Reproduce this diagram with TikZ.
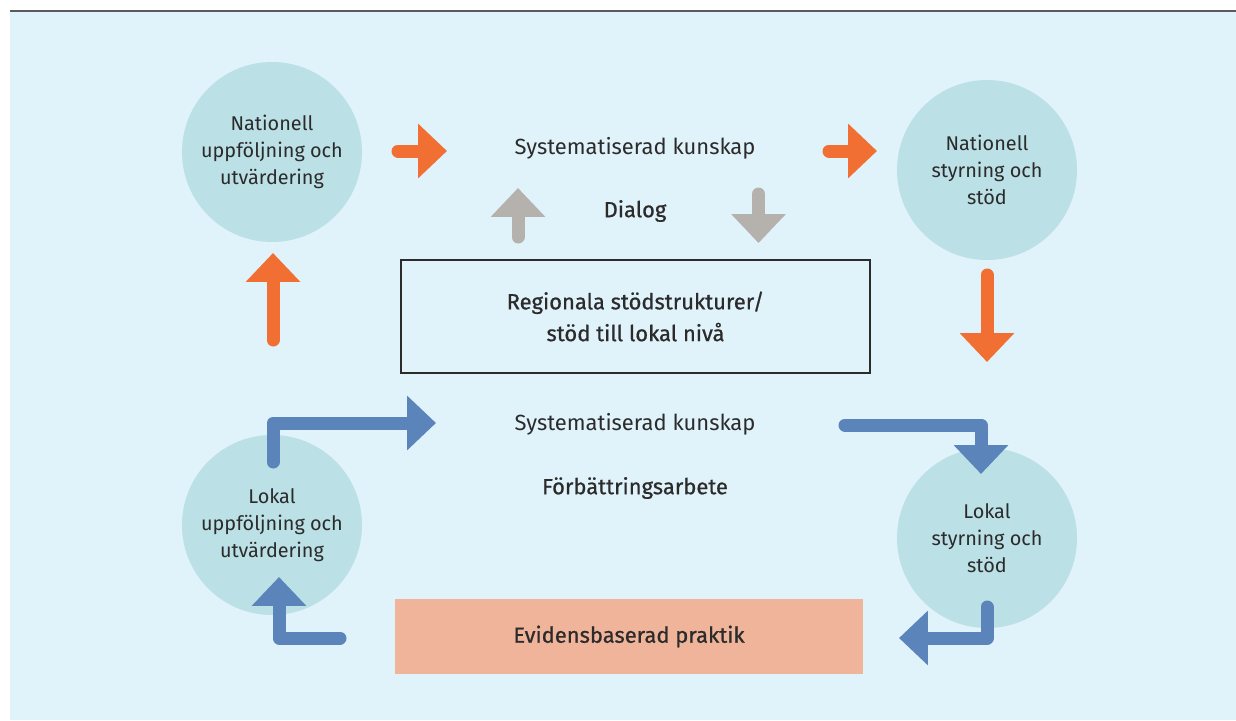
\documentclass[tikz,border=0pt]{standalone}
\usepackage{fontspec}
\setmainfont{Fira Sans}
\newfontfamily\keyfont{Fira Sans}[FakeBold=0.7]
\usetikzlibrary{arrows.meta}

\definecolor{bgblue}{HTML}{E0F2FA}
\definecolor{circlecol}{HTML}{BBE0E5}
\definecolor{flowred}{HTML}{F26F33}
\definecolor{dialoggray}{HTML}{B5B1AC}
\definecolor{loopblue}{HTML}{5A84BA}
\definecolor{salmon}{HTML}{F0B49B}
\definecolor{textcol}{HTML}{2B2B2B}
\definecolor{rulecol}{HTML}{5A5A5A}

\tikzset{
  stage/.style={circle, fill=circlecol, minimum size=3.6cm, inner sep=0pt,
    align=center, text=textcol, font=\fontsize{11.3}{15.3}\selectfont},
  flowtext/.style={text=textcol, font=\fontsize{12.5}{15.3}\selectfont},
  keytext/.style={text=textcol, align=center, font=\keyfont\fontsize{12.5}{18.1}\selectfont},
  bigarrow/.style={line width=7.4pt, line cap=round, line join=round,
    -{Triangle[length=16.4pt, width=30pt]}},
}

\begin{document}
\begin{tikzpicture}[x=0.02cm, y=-0.02cm]
			\useasboundingbox (0,0) rectangle (1236,720);
			\fill[bgblue] (10,11) rectangle (1236,720);
			\draw[rulecol, line width=1.2pt] (10,11) -- (1236,11);

			% The four stages
			\node[stage] (natuppf) at (272,152) {Nationell\\uppföljning och\\utvärdering};
			\node[stage] (natstyr) at (987,170) {Nationell\\styrning och\\stöd};
			\node[stage] (lokuppf) at (272,525) {Lokal\\uppföljning och\\utvärdering};
			\node[stage] (lokstyr) at (987,538) {Lokal\\styrning och\\stöd};

			% Texts in the middle
			\node[flowtext] (natkunskap) at (635,148) {Systematiserad kunskap};
			\node[keytext] (dialog) at (635,211) {Dialog};
			\node[keytext, draw=textcol, line width=0.7pt, minimum width=9.38cm,
				minimum height=2.26cm] (regional) at (635.5,316.5)
				{Regionala stödstrukturer/\\stöd till lokal nivå};
			\node[flowtext] (lokkunskap) at (635,424) {Systematiserad kunskap};
			\node[keytext] (forbattring) at (635,488) {Förbättringsarbete};
			\node[keytext, fill=salmon, minimum width=9.36cm, minimum height=1.5cm]
				(praktik) at (629,636.5) {Evidensbaserad praktik};

			% Ends of the arrows
			\coordinate (natuppfout) at (398,151);
			\coordinate (natkunskapin) at (447,151);
			\coordinate (natkunskapout) at (829,151);
			\coordinate (natstyrin) at (877,151);
			\coordinate (dialogup) at (518,237);
			\coordinate (dialogupend) at (518,188);
			\coordinate (dialogdown) at (758.5,194);
			\coordinate (dialogdownend) at (758.5,243);
			\coordinate (uppfup) at (273,340);
			\coordinate (uppfupend) at (273,253);
			\coordinate (styrdown) at (987,275);
			\coordinate (styrdownend) at (987,362);
			\coordinate (lokuppfout) at (273,462);
			\coordinate (lokkunskapin) at (436,423);
			\coordinate (lokkunskapout) at (845,425);
			\coordinate (lokstyrin) at (981,474);
			\coordinate (lokstyrout) at (987,607);
			\coordinate (praktikin) at (899,638);
			\coordinate (praktikout) at (340,638);
			\coordinate (lokuppfin) at (279,577);

			% National flow
			\draw[bigarrow, flowred] (natuppfout) -- (natkunskapin);
			\draw[bigarrow, flowred] (natkunskapout) -- (natstyrin);
			\draw[bigarrow, flowred] (styrdown) -- (styrdownend);
			\draw[bigarrow, flowred] (uppfup) -- (uppfupend);

			% Dialog
			\draw[bigarrow, dialoggray] (dialogup) -- (dialogupend);
			\draw[bigarrow, dialoggray] (dialogdown) -- (dialogdownend);

			% Local loop
			\draw[bigarrow, loopblue] (lokuppfout) |- (lokkunskapin);
			\draw[bigarrow, loopblue] (lokkunskapout) -| (lokstyrin);
			\draw[bigarrow, loopblue] (lokstyrout) |- (praktikin);
			\draw[bigarrow, loopblue] (praktikout) -| (lokuppfin);

		\end{tikzpicture}
\end{document}
